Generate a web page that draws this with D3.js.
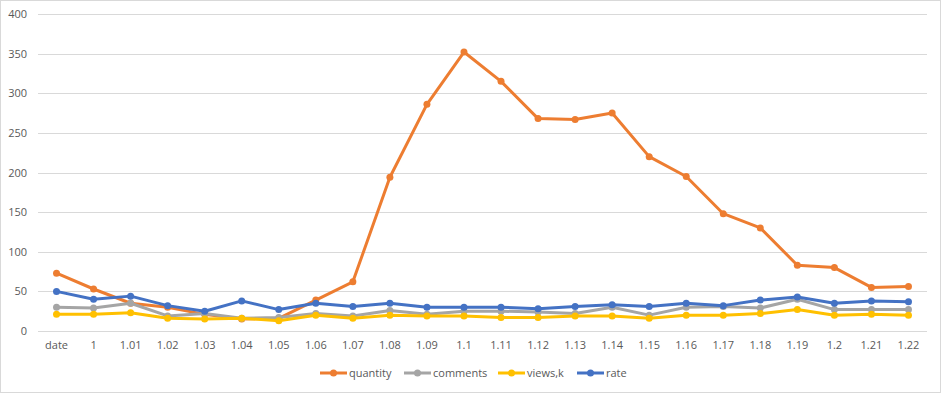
<!DOCTYPE html>
<meta charset='utf-8'>
<title>quantity / comments / views / rate</title>
<style>
html, body {
  margin: 0;
  padding: 0;
  background: #fff;
}
</style>
<script src='https://d3js.org/d3.v7.min.js'></script>
<body>
<div id='chart'></div>
<script>
// Data
var dates = ['date', '1', '1.01', '1.02', '1.03', '1.04', '1.05', '1.06', '1.07', '1.08', '1.09', '1.1',
  '1.11', '1.12', '1.13', '1.14', '1.15', '1.16', '1.17', '1.18', '1.19', '1.2', '1.21', '1.22'];
var quantity = [73, 53, 35, 30, 21, 15, 16, 39, 62, 194, 286, 352, 315, 268, 267, 275, 220, 195, 148, 130, 83, 80, 55, 56];
var comments = [30, 29, 35, 19, 22, 16, 17, 22, 19, 26, 21, 25, 25, 24, 22, 30, 20, 30, 31, 29, 40, 27, 27, 27];
var viewsK   = [21, 21, 23, 16, 15, 16, 13, 20, 16, 20, 19, 19, 17, 17, 19, 19, 16, 20, 20, 22, 27, 20, 21, 20];
var rate     = [50, 40, 44, 32, 25, 38, 27, 35, 31, 35, 30, 30, 30, 28, 31, 33, 31, 35, 32, 39, 43, 35, 38, 37];
var yTicks = [0, 50, 100, 150, 200, 250, 300, 350, 400];

var series = [
  { name: 'quantity', values: quantity, color: '#ED7D31' },
  { name: 'comments', values: comments, color: '#A5A5A5' },
  { name: 'views,k',  values: viewsK,   color: '#FFC000' },
  { name: 'rate',     values: rate,     color: '#4472C4' }
];

var width = 941, height = 393;
var plot = { left: 38, right: 927, top: 14, bottom: 331 };
var font = "'Open Sans', 'Liberation Sans', sans-serif";
var textColor = '#595959';

var svg = d3.select('#chart').append('svg')
  .attr('width', width)
  .attr('height', height)
  .style('display', 'block');

// Chart border
svg.append('rect')
  .attr('x', 0.5).attr('y', 0.5)
  .attr('width', width - 1).attr('height', height - 1)
  .attr('fill', '#fff')
  .attr('stroke', '#D9D9D9');

var x = d3.scaleBand()
  .domain(dates)
  .range([plot.left, plot.right]);

var y = d3.scaleLinear()
  .domain([0, 400])
  .range([plot.bottom, plot.top]);

// Gridlines
svg.append('g')
  .selectAll('line')
  .data(yTicks)
  .enter().append('line')
  .attr('x1', plot.left).attr('x2', plot.right)
  .attr('y1', function (d) { return Math.round(y(d)) + 0.5; })
  .attr('y2', function (d) { return Math.round(y(d)) + 0.5; })
  .attr('stroke', '#D9D9D9')
  .attr('stroke-width', 1);

// Y axis labels
var yAxis = d3.axisLeft(y).tickValues(yTicks).tickSize(0).tickPadding(11);
var gy = svg.append('g')
  .attr('transform', 'translate(' + plot.left + ',0)')
  .call(yAxis);
gy.select('.domain').remove();
gy.selectAll('text')
  .attr('fill', textColor)
  .style('font-family', font)
  .style('font-size', '11px');

// X axis labels
var xAxis = d3.axisBottom(x).tickSize(0).tickPadding(10);
var gx = svg.append('g')
  .attr('transform', 'translate(0,' + plot.bottom + ')')
  .call(xAxis);
gx.select('.domain').remove();
gx.selectAll('text')
  .attr('fill', textColor)
  .style('font-family', font)
  .style('font-size', '11px');

var line = d3.line()
  .x(function (d, i) { return x(dates[i]) + x.bandwidth() / 2; })
  .y(function (d) { return y(d); });

// Series lines + markers
var gs = svg.append('g')
  .selectAll('g')
  .data(series)
  .enter().append('g');

gs.append('path')
  .attr('d', function (s) { return line(s.values); })
  .attr('fill', 'none')
  .attr('stroke', function (s) { return s.color; })
  .attr('stroke-width', 3)
  .attr('stroke-linejoin', 'round');

gs.selectAll('circle')
  .data(function (s) { return s.values.map(function (v, i) { return { v: v, i: i, color: s.color }; }); })
  .enter().append('circle')
  .attr('cx', function (d) { return x(dates[d.i]) + x.bandwidth() / 2; })
  .attr('cy', function (d) { return y(d.v); })
  .attr('r', 3.5)
  .attr('fill', function (d) { return d.color; });

// Legend
var legendX = [320, 404, 498, 577];
var legend = svg.append('g')
  .selectAll('g')
  .data(series)
  .enter().append('g')
  .attr('transform', function (s, i) { return 'translate(' + legendX[i] + ',373)'; });

legend.append('line')
  .attr('x1', 0).attr('x2', 27)
  .attr('stroke', function (s) { return s.color; })
  .attr('stroke-width', 3);
legend.append('circle')
  .attr('cx', 13.5).attr('r', 3.5)
  .attr('fill', function (s) { return s.color; });
legend.append('text')
  .attr('x', 29)
  .attr('dy', '0.35em')
  .text(function (s) { return s.name; })
  .attr('fill', textColor)
  .style('font-family', font)
  .style('font-size', '11px');
</script>
</body>
